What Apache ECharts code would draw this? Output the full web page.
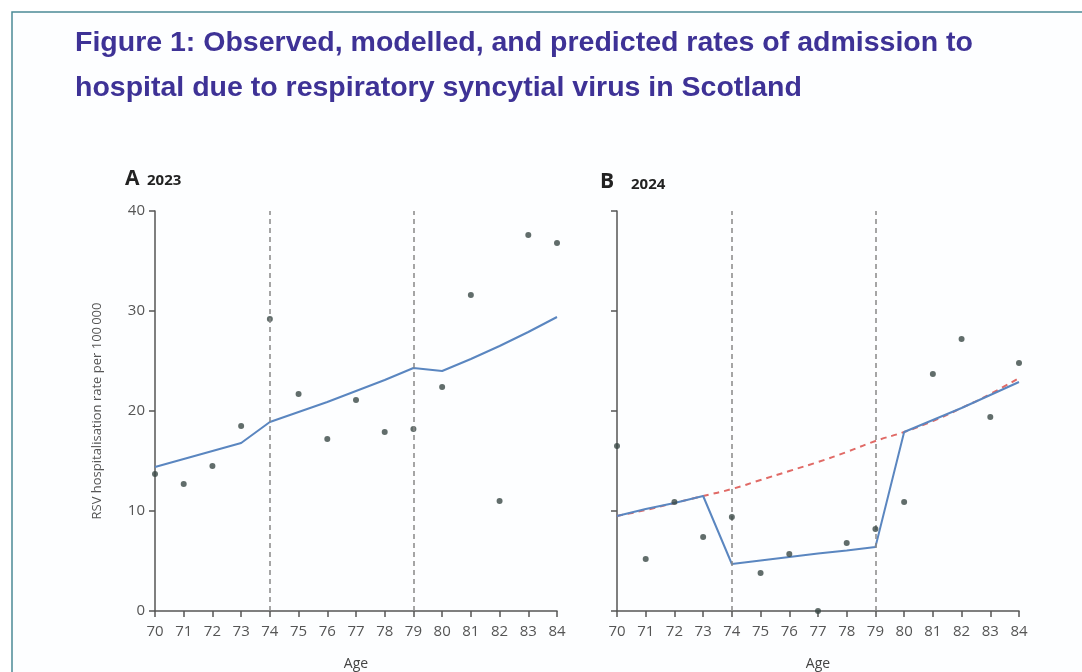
<!DOCTYPE html>
<html>
<head>
<meta charset="utf-8">
<script src="https://cdn.jsdelivr.net/npm/echarts@6/dist/echarts.min.js"></script>
<style>
html,body{margin:0;padding:0;background:#fff;}
#chart{width:1082px;height:672px;}
</style>
</head>
<body>
<div id="chart"></div>
<script>
const ages = [70,71,72,73,74,75,76,77,78,79,80,81,82,83,84];
const yTicks = [0,10,20,30,40];
const cutoffs = [74,79];

const observed2023 = [13.7,12.7,14.5,18.5,29.2,21.7,17.2,21.1,17.9,18.2,22.4,31.6,11.0,37.6,36.8];
const modelled2023 = [14.4,15.2,16.0,16.8,18.9,19.9,20.9,22.0,23.1,24.3,24.0,25.2,26.5,27.9,29.4];

const observed2024 = [16.5,5.2,10.9,7.4,9.4,3.8,5.7,0.0,6.8,8.2,10.9,23.7,27.2,19.4,24.8];
const modelled2024 = [9.5,10.2,10.8,11.5,4.7,5.05,5.4,5.75,6.05,6.4,17.9,19.1,20.3,21.6,22.9];
const predicted2024 = [9.5,10.1,10.8,11.5,12.2,13.1,14.0,14.9,15.9,17.0,17.9,19.0,20.3,21.7,23.3];

const pairs = (ys) => ages.map((a,i)=>[a, ys[i]]);

const axisCol = '#555';
const labelFont = '"Open Sans", "Noto Sans", sans-serif';

function xAx(gi){
  return {
    type:'value', gridIndex:gi, min:70, max:84, interval:1,
    name:'Age', nameLocation:'middle', nameGap:46,
    nameTextStyle:{color:'#444', fontSize:14, fontFamily:labelFont},
    axisLine:{show:true, lineStyle:{color:axisCol, width:1.5}},
    axisTick:{show:true, length:6, lineStyle:{color:axisCol, width:1.5}},
    axisLabel:{color:'#555', fontSize:15, fontFamily:labelFont, margin:13},
    splitLine:{show:false}
  };
}
function yAx(gi, showLabels){
  return {
    type:'value', gridIndex:gi, min:0, max:40, interval:10,
    name: showLabels ? 'RSV hospitalisation rate per 100\u2009000' : '',
    nameLocation:'middle', nameGap:51, nameRotate:90,
    nameTextStyle:{color:'#555', fontSize:13, fontFamily:labelFont},
    axisLine:{show:true, lineStyle:{color:axisCol, width:1.5}},
    axisTick:{show:true, length:6, lineStyle:{color:axisCol, width:1.5}},
    axisLabel:{show:showLabels, color:'#555', fontSize:15, fontFamily:labelFont, margin:10,
      formatter:(v)=> yTicks.includes(v) ? String(v) : ''},
    splitLine:{show:false}
  };
}

const vlines = {
  silent:true, symbol:['none','none'], label:{show:false},
  lineStyle:{color:'#888', type:[5,4], width:1.5},
  data: cutoffs.map(c=>({xAxis:c}))
};

const dotStyle = {color:'#3a4846'};
const blue = '#5a86c0';
const red = '#e06a66';

const option = {
  animation:false,
  backgroundColor:'#ffffff',
  grid:[
    {left:155, top:211, width:402, height:400, outerBoundsMode:'none', containLabel:false},
    {left:617, top:211, width:402, height:400, outerBoundsMode:'none', containLabel:false}
  ],
  xAxis:[xAx(0), xAx(1)],
  yAxis:[yAx(0,true), yAx(1,false)],
  graphic:[
    {type:'rect', shape:{x:12, y:12, width:1120, height:720},
     style:{fill:'#fdfeff', stroke:'#4b8b96', lineWidth:1.5}, z:-10, silent:true},
    {type:'text', left:75, top:29,
     style:{text:'Figure 1: Observed, modelled, and predicted rates of admission to',
       font:'bold 28.5px "Liberation Sans", Arial, sans-serif', fill:'#3e3296'}},
    {type:'text', left:75, top:74,
     style:{text:'hospital due to respiratory syncytial virus in Scotland',
       font:'bold 28.5px "Liberation Sans", Arial, sans-serif', fill:'#3e3296'}},
    {type:'text', left:125, top:169,
     style:{text:'A', font:'bold 21px "Open Sans", sans-serif', fill:'#222'}},
    {type:'text', left:147, top:173,
     style:{text:'2023', font:'bold 15px "Open Sans", sans-serif', fill:'#222'}},
    {type:'text', left:600, top:172,
     style:{text:'B', font:'bold 21px "Open Sans", sans-serif', fill:'#222'}},
    {type:'text', left:631, top:177,
     style:{text:'2024', font:'bold 15px "Open Sans", sans-serif', fill:'#222'}}
  ],
  series:[
    {type:'line', xAxisIndex:0, yAxisIndex:0, data:pairs(modelled2023), showSymbol:false,
     lineStyle:{color:blue, width:2}, z:3, markLine:vlines},
    {type:'scatter', xAxisIndex:0, yAxisIndex:0, data:pairs(observed2023), symbolSize:6,
     itemStyle:dotStyle, clip:false, z:4},
    {type:'line', xAxisIndex:1, yAxisIndex:1, data:pairs(predicted2024), showSymbol:false, smooth:true,
     lineStyle:{color:red, width:2, type:[6,5]}, z:3, markLine:vlines},
    {type:'line', xAxisIndex:1, yAxisIndex:1, data:pairs(modelled2024), showSymbol:false,
     lineStyle:{color:blue, width:2}, z:4},
    {type:'scatter', xAxisIndex:1, yAxisIndex:1, data:pairs(observed2024), symbolSize:6,
     itemStyle:dotStyle, clip:false, z:5}
  ]
};

const chart = echarts.init(document.getElementById('chart'));
chart.setOption(option);
</script>
</body>
</html>
